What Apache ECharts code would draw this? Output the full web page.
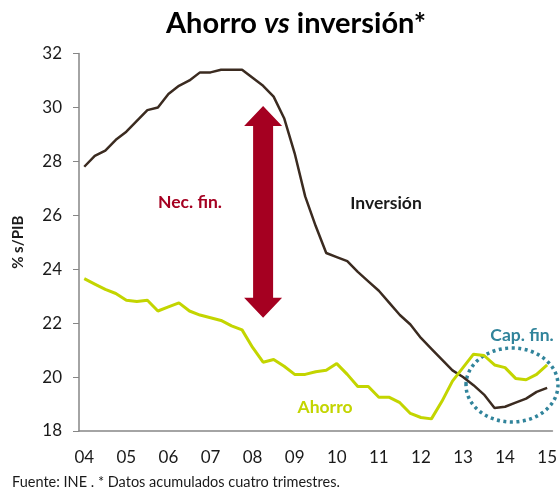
<!DOCTYPE html>
<html>
<head>
<meta charset="utf-8">
<script src="https://cdn.jsdelivr.net/npm/echarts@6/dist/echarts.min.js"></script>
<style>
  html, body { margin: 0; padding: 0; background: #fff; }
  #chart { width: 560px; height: 494px; }
</style>
</head>
<body>
<div id="chart"></div>
<script>
// quarterly, 2004 T1 .. 2015 T1 (45 points), % of GDP, 4-quarter cumulative
const years = ['04','05','06','07','08','09','10','11','12','13','14','15'];
const quarters = [];
years.forEach(function (y) {
  for (let q = 1; q <= 4; q++) quarters.push(y + 'T' + q);
});
quarters.length = 45;

const inversion = [
  27.8, 28.2, 28.4, 28.8, 29.1, 29.5, 29.9, 30.0, 30.5, 30.8, 31.0, 31.3,
  31.3, 31.4, 31.4, 31.4, 31.1, 30.8, 30.4, 29.6, 28.3, 26.7, 25.6, 24.6,
  24.45, 24.3, 23.9, 23.55, 23.2, 22.75, 22.3, 21.95, 21.45, 21.05, 20.65, 20.25,
  20.0, 19.7, 19.35, 18.85, 18.9, 19.05, 19.2, 19.45, 19.6
];
const ahorro = [
  23.65, 23.45, 23.25, 23.1, 22.85, 22.8, 22.85, 22.45, 22.6, 22.75, 22.45, 22.3,
  22.2, 22.1, 21.9, 21.75, 21.1, 20.55, 20.65, 20.4, 20.1, 20.1, 20.2, 20.25,
  20.5, 20.1, 19.65, 19.65, 19.25, 19.25, 19.05, 18.65, 18.5, 18.45, 19.1, 19.85,
  20.35, 20.85, 20.8, 20.45, 20.35, 19.95, 19.9, 20.1, 20.45
];
// financing-need arrow: category index and value range
const arrowAt = [17, 22.2, 30.05];

const chart = echarts.init(document.getElementById('chart'));
const FONT = 'Lato';

chart.setOption({
  animation: false,
  textStyle: { fontFamily: FONT },
  grid: { left: 79, right: 7, top: 53.5, bottom: 63, containLabel: false },
  xAxis: {
    type: 'category',
    data: quarters,
    boundaryGap: true,
    axisLine: { lineStyle: { color: '#868686', width: 1.5 } },
    axisTick: {
      interval: function (i) { return i % 4 === 0; },
      length: 6,
      lineStyle: { color: '#868686' }
    },
    axisLabel: {
      interval: function (i) { return i % 4 === 0; },
      formatter: function (v) { return v.slice(0, 2); },
      color: '#1a1a1a',
      fontSize: 17,
      margin: 18
    },
    splitLine: { show: false }
  },
  yAxis: {
    type: 'value',
    min: 18,
    max: 32,
    interval: 2,
    name: '% s/PIB',
    nameLocation: 'middle',
    nameGap: 53,
    nameRotate: 90,
    nameTextStyle: { fontSize: 15, fontWeight: 'bold', color: '#1a1a1a' },
    axisLine: { show: true, lineStyle: { color: '#868686', width: 1.5 } },
    axisTick: { show: true, length: 6, lineStyle: { color: '#868686' } },
    axisLabel: { color: '#1a1a1a', fontSize: 17, margin: 17 },
    splitLine: { show: false }
  },
  series: [
    {
      name: 'Inversión',
      type: 'line',
      data: inversion,
      symbol: 'none',
      lineStyle: { color: '#3b2b20', width: 2.5 }
    },
    {
      name: 'Ahorro',
      type: 'line',
      data: ahorro,
      symbol: 'none',
      lineStyle: { color: '#c3d500', width: 3 }
    },
    {
      type: 'custom',
      data: [arrowAt],
      renderItem: function (params, api) {
        const lo = api.coord([api.value(0), api.value(1)]);
        const hi = api.coord([api.value(0), api.value(2)]);
        const cx = lo[0];
        const sw = 10, hw = 19, hh = 20;
        return {
          type: 'polygon',
          shape: {
            points: [
              [cx, hi[1]], [cx + hw, hi[1] + hh], [cx + sw, hi[1] + hh],
              [cx + sw, lo[1] - hh], [cx + hw, lo[1] - hh], [cx, lo[1]],
              [cx - hw, lo[1] - hh], [cx - sw, lo[1] - hh], [cx - sw, hi[1] + hh],
              [cx - hw, hi[1] + hh]
            ]
          },
          style: { fill: '#a50021' }
        };
      }
    }
  ],
  graphic: [
    {
      type: 'text', left: 166, top: 9,
      style: {
        text: '{b|Ahorro }{i|vs}{b| inversión*}',
        rich: {
          b: { fontFamily: FONT, fontSize: 29, fontWeight: 'bold', fill: '#000' },
          i: { fontFamily: FONT, fontSize: 29, fontWeight: 'bold', fontStyle: 'italic', fill: '#000' }
        }
      }
    },
    {
      type: 'text', x: 190, y: 202,
      style: { text: 'Nec. fin.', fontFamily: FONT, fontSize: 17.5, fontWeight: 'bold', fill: '#a50021', align: 'center', verticalAlign: 'middle' }
    },
    {
      type: 'text', x: 386, y: 203,
      style: { text: 'Inversión', fontFamily: FONT, fontSize: 17.5, fontWeight: 'bold', fill: '#1a1a1a', align: 'center', verticalAlign: 'middle' }
    },
    {
      type: 'text', x: 325, y: 407,
      style: { text: 'Ahorro', fontFamily: FONT, fontSize: 17.5, fontWeight: 'bold', fill: '#c3d500', align: 'center', verticalAlign: 'middle' }
    },
    {
      type: 'text', x: 522, y: 335,
      style: { text: 'Cap. fin.', fontFamily: FONT, fontSize: 17.5, fontWeight: 'bold', fill: '#31849b', align: 'center', verticalAlign: 'middle' }
    },
    {
      type: 'ellipse',
      shape: { cx: 512, cy: 385, rx: 46, ry: 37 },
      style: { fill: 'none', stroke: '#31849b', lineWidth: 3.5, lineDash: [3, 3.5] }
    },
    {
      type: 'text', left: 12, top: 475,
      style: { text: 'Fuente: INE . * Datos acumulados cuatro trimestres.', fontFamily: FONT, fontSize: 14.5, fill: '#1a1a1a' }
    }
  ]
});
</script>
</body>
</html>
